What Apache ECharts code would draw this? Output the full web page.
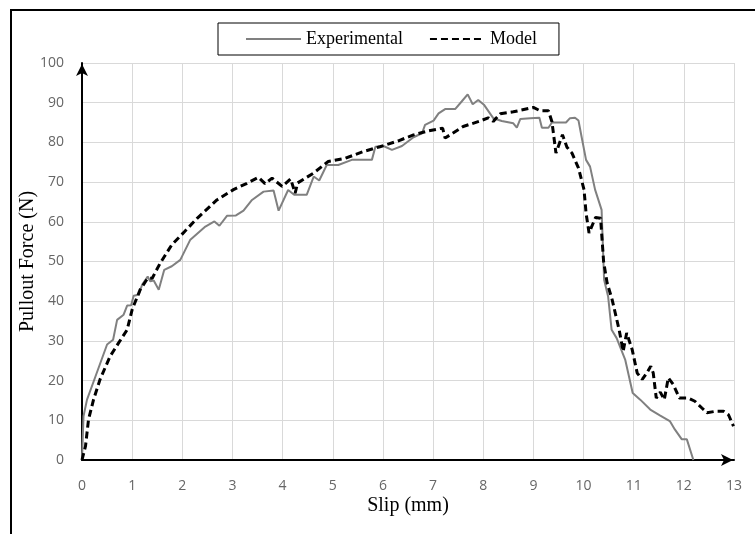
<!DOCTYPE html>
<html>
<head>
<meta charset="utf-8">
<script src="https://cdn.jsdelivr.net/npm/echarts@6/dist/echarts.min.js"></script>
<style>html,body{margin:0;padding:0;background:#fff;}#chart{width:755px;height:534px;}</style>
</head>
<body>
<div id="chart"></div>
<script>
const seriesNames = ['Experimental', 'Model'];
const xTicks = [0,1,2,3,4,5,6,7,8,9,10,11,12,13];
const yTicks = [0,10,20,30,40,50,60,70,80,90,100];

const expSlip = [0,0.03,0.10,0.27,0.50,0.62,0.70,0.83,0.90,0.98,1.03,1.13,1.20,1.31,1.36,1.43,1.53,1.64,1.79,1.96,2.16,2.46,2.64,2.74,2.89,3.07,3.22,3.39,3.62,3.82,3.92,4.11,4.23,4.48,4.62,4.73,4.88,5.11,5.38,5.78,5.85,6.01,6.18,6.38,6.61,6.78,6.84,7.01,7.11,7.24,7.44,7.57,7.69,7.79,7.90,8.02,8.20,8.37,8.60,8.67,8.74,8.94,9.12,9.17,9.30,9.37,9.65,9.73,9.83,9.90,9.96,10.05,10.13,10.23,10.36,10.41,10.49,10.56,10.66,10.83,10.98,11.13,11.33,11.53,11.72,11.82,11.96,12.06,12.19];
const expForce = [0,11.0,15.2,21.1,29.1,30.3,35.3,36.6,38.9,39.0,41.4,41.6,44.2,46.2,45.0,45.2,42.9,47.9,48.8,50.4,55.5,58.8,60.1,59.0,61.5,61.6,62.8,65.5,67.6,67.9,62.8,68.0,66.8,66.8,71.4,70.4,74.3,74.3,75.6,75.6,78.9,79.1,78.1,79.1,81.3,82.3,84.4,85.5,87.3,88.4,88.4,90.3,92.1,89.6,90.7,89.4,86.1,85.4,84.8,83.7,85.9,86.1,86.2,83.7,83.7,85.0,85.0,86.1,86.2,85.5,81.5,75.6,73.9,68.1,63.0,45.4,41.2,32.8,30.7,25.3,16.9,15.2,12.7,11.2,9.8,7.7,5.2,5.2,0];

const modSlip = [0,0.07,0.13,0.23,0.36,0.56,0.73,0.90,1.00,1.16,1.31,1.40,1.56,1.79,2.02,2.29,2.69,3.02,3.29,3.52,3.65,3.79,3.99,4.16,4.25,4.30,4.62,4.91,5.25,5.61,5.94,6.31,6.61,6.91,7.19,7.24,7.60,7.94,8.10,8.20,8.34,8.60,9.00,9.13,9.30,9.37,9.45,9.58,9.67,9.77,9.90,10.01,10.05,10.11,10.24,10.34,10.40,10.47,10.57,10.71,10.79,10.86,10.97,11.07,11.17,11.26,11.34,11.39,11.45,11.53,11.61,11.69,11.79,11.91,12.09,12.22,12.36,12.46,12.65,12.79,12.89,12.99];
const modForce = [0,3.5,10.2,15.2,20.3,26.1,29.5,32.8,37.9,42.9,45.8,45.8,49.6,54.2,57.2,60.8,65.5,68.1,69.7,71.2,69.6,71.0,68.9,70.8,67.2,69.8,72.3,75.2,76.0,77.7,78.9,80.4,81.9,82.9,83.6,81.1,84.0,85.4,86.2,85.3,87.2,87.7,88.8,88.0,88.0,85.2,77.3,81.9,78.8,77.3,73.5,68.1,62.2,57.2,61.1,60.9,50.0,44.6,40.4,32.8,27.4,32.0,27.8,21.9,20.3,21.9,23.6,21.9,15.6,17.1,15.2,20.7,19.0,15.6,15.6,14.8,13.1,11.9,12.3,12.3,11.4,8.5];

const expData = expSlip.map((s, i) => [s, expForce[i]]);
const modData = modSlip.map((s, i) => [s, modForce[i]]);

const chart = echarts.init(document.getElementById('chart'), null, {renderer: 'canvas'});
const tickFont = {color: '#666666', fontFamily: 'Open Sans', fontSize: 14};
const axisLineStyle = {
  show: true, onZero: false,
  lineStyle: {color: '#000', width: 2},
  symbol: ['none', 'arrow'], symbolSize: [9, 12], symbolOffset: [0, -1]
};
chart.setOption({
  animation: false,
  backgroundColor: '#fff',
  graphic: [{
    type: 'rect', shape: {x: 11, y: 10, width: 800, height: 600},
    style: {fill: 'none', stroke: '#000', lineWidth: 2}, silent: true, z: 0
  }],
  legend: {
    data: seriesNames,
    left: 218, top: 23,
    padding: [7, 22, 7, 27],
    borderColor: '#000', borderWidth: 1,
    itemWidth: 55, itemHeight: 14, itemGap: 26,
    itemStyle: {opacity: 0},
    textStyle: {fontFamily: 'Liberation Serif', fontSize: 18, color: '#000'}
  },
  grid: {left: 82, right: 21, top: 63, bottom: 74, containLabel: false},
  xAxis: {
    type: 'value', min: xTicks[0], max: xTicks[xTicks.length - 1], interval: 1,
    name: 'Slip (mm)', nameLocation: 'middle', nameGap: 36, nameMoveOverlap: false,
    nameTextStyle: {fontFamily: 'Liberation Serif', fontSize: 20, color: '#000'},
    axisLine: axisLineStyle,
    axisTick: {show: false},
    axisLabel: Object.assign({margin: 19}, tickFont),
    splitLine: {show: true, lineStyle: {color: '#d9d9d9', width: 1}}
  },
  yAxis: {
    type: 'value', min: yTicks[0], max: yTicks[yTicks.length - 1], interval: 10,
    name: 'Pullout Force (N)', nameLocation: 'middle', nameGap: 44, nameMoveOverlap: false,
    nameTextStyle: {fontFamily: 'Liberation Serif', fontSize: 20, color: '#000'},
    axisLine: axisLineStyle,
    axisTick: {show: false},
    axisLabel: Object.assign({margin: 18}, tickFont),
    splitLine: {show: true, lineStyle: {color: '#d9d9d9', width: 1}}
  },
  series: [
    {
      name: seriesNames[0], type: 'line', data: expData, symbol: 'none', showSymbol: false,
      lineStyle: {color: '#808080', width: 2}, itemStyle: {color: '#808080'}, z: 2
    },
    {
      name: seriesNames[1], type: 'line', data: modData, symbol: 'none', showSymbol: false,
      lineStyle: {color: '#000', width: 3, type: [7, 4]}, itemStyle: {color: '#000'}, z: 3
    }
  ]
});
</script>
</body>
</html>
